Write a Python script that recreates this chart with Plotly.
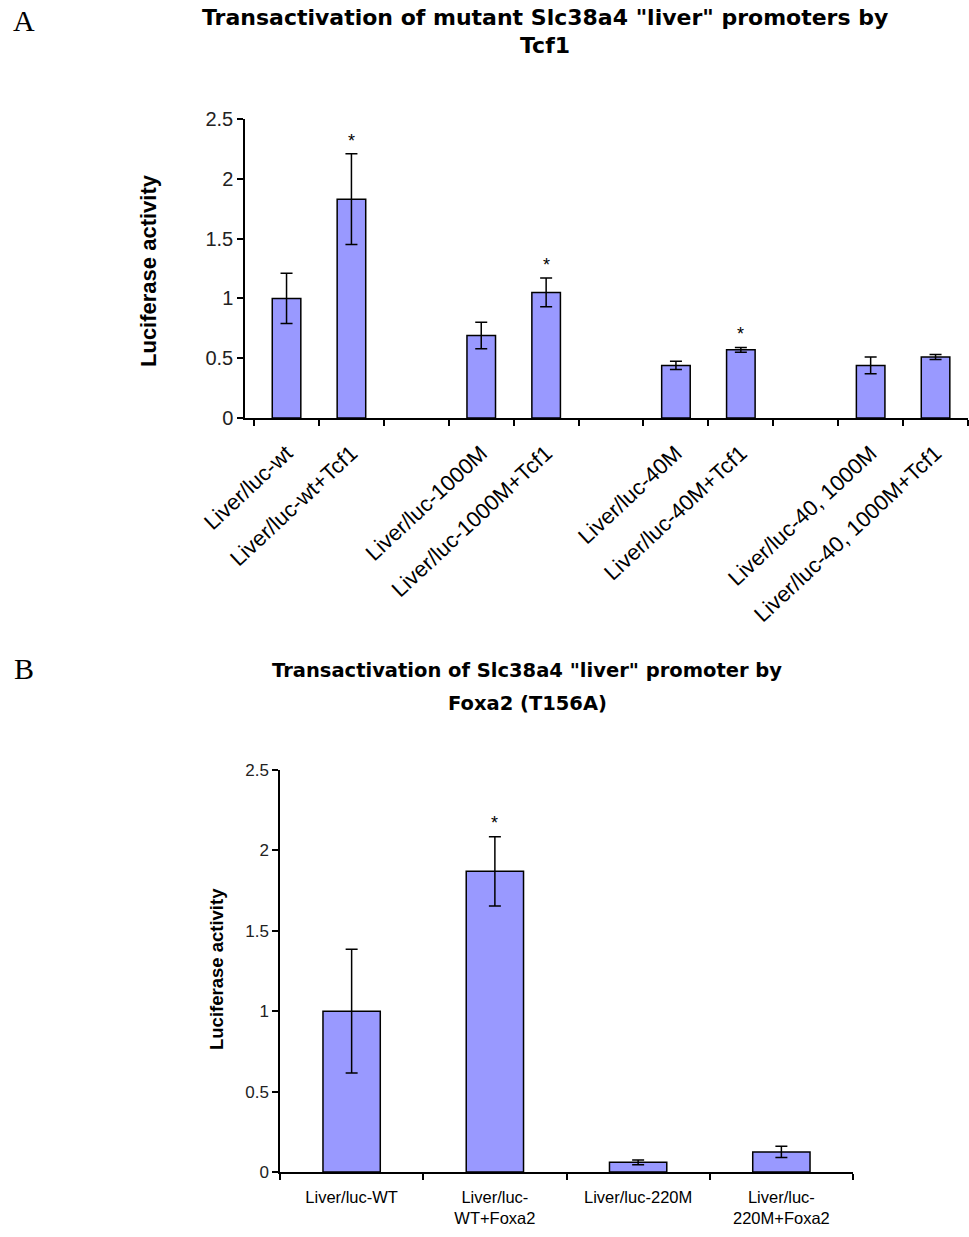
import plotly.graph_objects as go

W, H = 969, 1237

# ---- Panel A data ----
a_categories = ["Liver/luc-wt", "Liver/luc-wt+Tcf1", " ",
                "Liver/luc-1000M", "Liver/luc-1000M+Tcf1", "  ",
                "Liver/luc-40M", "Liver/luc-40M+Tcf1", "   ",
                "Liver/luc-40, 1000M", "Liver/luc-40, 1000M+Tcf1"]
a_values = [1.0, 1.83, None, 0.69, 1.05, None, 0.44, 0.57, None, 0.44, 0.51]
a_errors = [0.21, 0.38, 0, 0.11, 0.12, 0, 0.035, 0.02, 0, 0.07, 0.02]
a_sig = [False, True, False, False, True, False, False, True, False, False, False]
a_title_lines = ['Transactivation of mutant Slc38a4 "liver" promoters by', 'Tcf1']

# ---- Panel B data ----
b_categories = ["Liver/luc-WT", "Liver/luc-<br>WT+Foxa2", "Liver/luc-220M", "Liver/luc-<br>220M+Foxa2"]
b_values = [1.0, 1.87, 0.06, 0.125]
b_errors = [0.385, 0.215, 0.015, 0.035]
b_sig = [False, True, False, False]
b_title_lines = ['Transactivation of Slc38a4 "liver" promoter by', 'Foxa2 (T156A)']

y_title = "Luciferase activity"

FILL = "#9999FF"
EDGE = "#000000"
FONT = "Liberation Sans, Arial, sans-serif"
TFONT = "DejaVu Sans, sans-serif"

fig = go.Figure()

fig.add_trace(go.Bar(
    x=a_categories, y=a_values, width=0.44,
    marker=dict(color=FILL, line=dict(color=EDGE, width=1.5)),
    error_y=dict(type="data", array=a_errors, visible=True, color="black", thickness=1.5, width=6),
    xaxis="x", yaxis="y", showlegend=False,
))
fig.add_trace(go.Bar(
    x=b_categories, y=b_values, width=0.4,
    marker=dict(color=FILL, line=dict(color=EDGE, width=1.5)),
    error_y=dict(type="data", array=b_errors, visible=True, color="black", thickness=1.5, width=6),
    xaxis="x2", yaxis="y2", showlegend=False,
))

def px_x(p):
    return p / W

def px_y(p):
    return 1 - p / H

annotations = []
for c, v, e, s in zip(a_categories, a_values, a_errors, a_sig):
    if s:
        annotations.append(dict(x=c, y=v + e, xref="x", yref="y", text="*", showarrow=False,
                                yanchor="bottom", yshift=1, font=dict(size=18, color="black", family=FONT)))
for c, v, e, s in zip(b_categories, b_values, b_errors, b_sig):
    if s:
        annotations.append(dict(x=c, y=v + e, xref="x2", yref="y2", text="*", showarrow=False,
                                yanchor="bottom", yshift=2, font=dict(size=18, color="black", family=FONT)))

# titles (one annotation per line)
for txt, ypx in zip(a_title_lines, [17, 45]):
    annotations.append(dict(x=px_x(545), y=px_y(ypx), xref="paper", yref="paper", text="<b>" + txt + "</b>",
                            showarrow=False, xanchor="center", yanchor="middle",
                            font=dict(size=22, color="black", family=TFONT)))
for txt, ypx in zip(b_title_lines, [670, 703]):
    annotations.append(dict(x=px_x(527), y=px_y(ypx), xref="paper", yref="paper", text="<b>" + txt + "</b>",
                            showarrow=False, xanchor="center", yanchor="middle",
                            font=dict(size=19.5, color="black", family=TFONT)))
# panel letters
annotations.append(dict(x=px_x(24), y=px_y(20), xref="paper", yref="paper", text="A", showarrow=False,
                        xanchor="center", yanchor="middle", font=dict(size=30, color="black", family="Liberation Serif, serif")))
annotations.append(dict(x=px_x(24), y=px_y(668), xref="paper", yref="paper", text="B", showarrow=False,
                        xanchor="center", yanchor="middle", font=dict(size=30, color="black", family="Liberation Serif, serif")))
# y-axis titles
annotations.append(dict(x=px_x(148), y=px_y(271), xref="paper", yref="paper", text="<b>" + y_title + "</b>",
                        showarrow=False, textangle=-90, xanchor="center", yanchor="middle",
                        font=dict(size=22, color="black", family=FONT)))
annotations.append(dict(x=px_x(216), y=px_y(969), xref="paper", yref="paper", text="<b>" + y_title + "</b>",
                        showarrow=False, textangle=-90, xanchor="center", yanchor="middle",
                        font=dict(size=18.5, color="black", family=FONT)))

axis_common = dict(showline=True, linecolor="black", linewidth=1.5, showgrid=False, zeroline=False,
                   ticks="outside", tickcolor="black", ticklen=6, tickwidth=1.5, automargin=False)

fig.update_layout(
    width=W, height=H,
    margin=dict(l=0, r=0, t=0, b=0, autoexpand=False),
    paper_bgcolor="white", plot_bgcolor="white",
    font=dict(family=FONT, color="black"),
    xaxis=dict(domain=[px_x(245), px_x(968)], anchor="y", type="category",
               categoryorder="array", categoryarray=a_categories,
               range=[-0.64, 10.5], tickson="boundaries", tickangle=-43,
               ticklabelstandoff=12,
               tickfont=dict(size=22, family=FONT, color="black"), **axis_common),
    yaxis=dict(domain=[px_y(418), px_y(119)], anchor="x", range=[0, 2.5], dtick=0.5,
               tickfont=dict(size=20, family=FONT, color="#222"), **axis_common),
    xaxis2=dict(domain=[px_x(280), px_x(853)], anchor="y2", type="category",
                categoryorder="array", categoryarray=b_categories,
                range=[-0.5, 3.5], tickson="boundaries", tickangle=0,
                ticklabelstandoff=9,
                tickfont=dict(size=16.5, family=FONT, color="black"), **axis_common),
    yaxis2=dict(domain=[px_y(1172), px_y(770)], anchor="x2", range=[0, 2.5], dtick=0.5,
                tickfont=dict(size=17, family=FONT, color="#222"), **axis_common),
    annotations=annotations,
)

fig.write_html("out.html")
